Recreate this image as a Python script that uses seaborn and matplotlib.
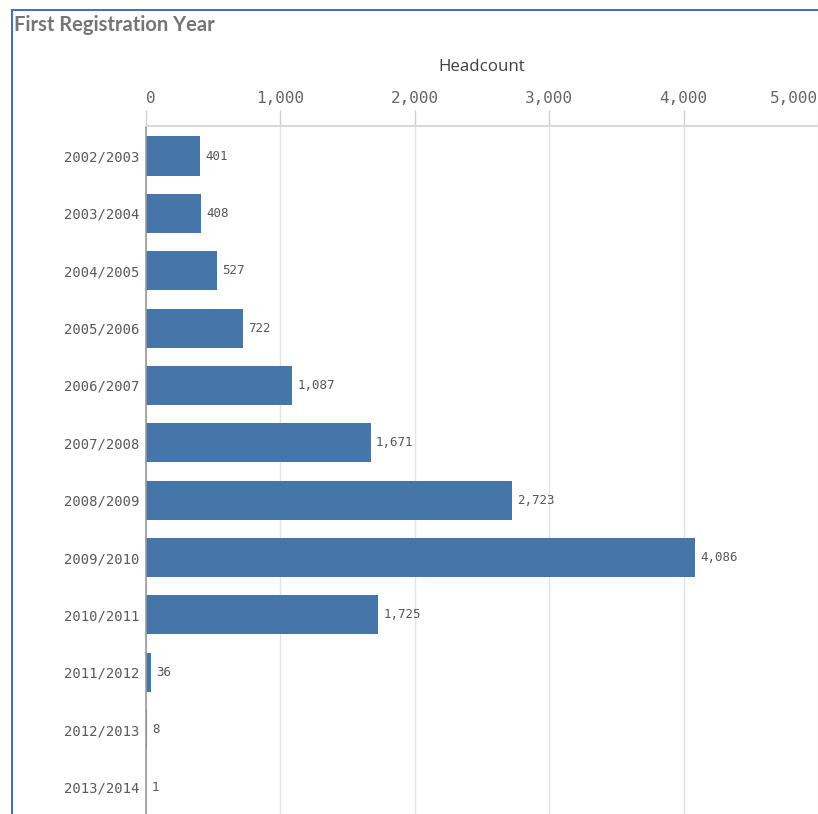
import matplotlib
matplotlib.use("Agg")
import matplotlib.pyplot as plt
import seaborn as sns
import pandas as pd
from matplotlib.patches import Rectangle
from matplotlib.ticker import FuncFormatter

categories = ["2002/2003", "2003/2004", "2004/2005", "2005/2006", "2006/2007",
              "2007/2008", "2008/2009", "2009/2010", "2010/2011", "2011/2012",
              "2012/2013", "2013/2014"]
headcount = [401, 408, 527, 722, 1087, 1671, 2723, 4086, 1725, 36, 8, 1]
x_ticks = [0, 1000, 2000, 3000, 4000, 5000]

df = pd.DataFrame({"year": categories, "headcount": headcount})

sns.set_theme(style="white")
W, H = 818, 814
fig = plt.figure(figsize=(W / 100, H / 100), dpi=100)
ax = fig.add_axes([146 / W, 0, 672 / W, 1 - 126 / H])

bar_color = "#4676a9"
sns.barplot(data=df, y="year", x="headcount", orient="h", color=bar_color,
            width=0.68, saturation=1, ax=ax, edgecolor="none")

ax.set_xlim(0, 5000)
ax.set_ylim(11.47, -0.523)
ax.xaxis.set_ticks_position("top")
ax.xaxis.set_label_position("top")
ax.set_xticks(x_ticks)
ax.xaxis.set_major_formatter(FuncFormatter(lambda v, p: f"{int(v):,}"))
ax.tick_params(axis="x", which="major", length=11.5, width=1, color="#d0d0d0",
               labelsize=11.5, labelcolor="#666666", pad=3, direction="out")
ax.tick_params(axis="y", length=0, labelsize=10, labelcolor="#595959", pad=5)
for lab in ax.get_xticklabels() + ax.get_yticklabels():
    lab.set_fontfamily("DejaVu Sans Mono")
xl = ax.get_xticklabels()
xl[0].set_horizontalalignment("left")
xl[-1].set_horizontalalignment("right")

ax.set_xlabel("Headcount", fontsize=12.2, color="#404040", labelpad=14,
              fontfamily="Open Sans")
ax.set_ylabel("")
ax.grid(axis="x", color="#e3e3e3", linewidth=1)
ax.set_axisbelow(True)
for s in ["right", "bottom"]:
    ax.spines[s].set_visible(False)
ax.spines["top"].set_color("#d9d9d9")
ax.spines["top"].set_linewidth(1.5)
ax.spines["left"].set_color("#9a9a9a")
ax.spines["left"].set_linewidth(1.2)

for i, v in enumerate(headcount):
    ax.text(v + 40, i, f"{v:,}", va="center", ha="left", fontsize=9,
            color="#555555", fontfamily="DejaVu Sans Mono")

fig.text(14 / W, 1 - 25 / H, "First Registration Year", fontsize=14.5,
         fontweight="bold", color="#757575", va="center", ha="left",
         fontfamily="Lato")

border = "#4a6cc4"
fig.add_artist(Rectangle((11 / W, 0), 2 / W, 1 - 9 / H, transform=fig.transFigure,
                         color=border, lw=0))
fig.add_artist(Rectangle((11 / W, 1 - 11 / H), 1, 2 / H, transform=fig.transFigure,
                         color=border, lw=0))

fig.savefig("out.png", dpi=100)
